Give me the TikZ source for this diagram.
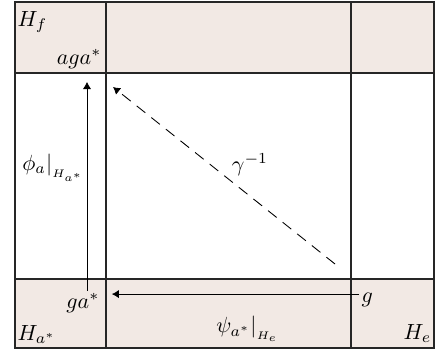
\documentclass[tikz,border=0pt]{standalone}
\usepackage{amsmath,amssymb}
\usepackage{xcolor}
\usepackage{tikz}
\usetikzlibrary{%
  arrows.meta,
  positioning,
  calc}
\definecolor{cellpink}{RGB}{242,233,228}
\tikzset{
  %% Grid of the table
  gridline/.style={draw=black!85, line width=0.5pt},
  shaded/.style={fill=cellpink},
  %% Math labels
  lbl/.style={inner sep=1pt},
  %% Arrows
  arrow/.style={-{Latex[length=3.2pt,width=3.8pt]}, black},
  darrow/.style={-{Latex[length=3.2pt,width=3.8pt]}, black,
    dash pattern=on 5pt off 3.5pt},
}
\begin{document}
\begin{tikzpicture}[x=0.016cm, y=-0.016cm]
  \useasboundingbox (0,0) rectangle (440,356);

  %% shaded rows
  \fill[shaded] (15,2) rectangle (434,73);
  \fill[shaded] (15,279) rectangle (434,348);

  %% grid
  \draw[gridline] (15,2) rectangle (434,348);
  \draw[gridline] (106,2) -- (106,348);
  \draw[gridline] (351,2) -- (351,348);
  \draw[gridline] (15,73) -- (434,73);
  \draw[gridline] (15,279) -- (434,279);

  %% corner labels
  \node[lbl, anchor=north west] (hf) at (15,9) {$H_f$};
  \node[lbl, anchor=south west] (ha) at (15,346) {$H_{a^*}$};
  \node[lbl, anchor=south east] (he) at (434,345) {$H_e$};

  %% elements
  \node[lbl, anchor=south east] (aga) at (104,71) {$aga^*$};
  \node[lbl, anchor=east] (ga) at (102,303) {$ga^*$};
  \node[lbl, anchor=west] (g) at (359,300) {$g$};

  %% maps
  \node[lbl] (phi) at (52,168)
        {$\left.\phi_a\right|_{\scriptscriptstyle H_{a^*}}$};
  \node[lbl] (psi) at (246,329)
        {$\left.\psi_{a^*}\right|_{\scriptscriptstyle H_e}$};
  \node[lbl] (gam) at (250,165) {$\gamma^{-1}$};

  \coordinate (vx) at (87,0);
  \coordinate (gs) at (335,264);
  \coordinate (gt) at (113,87);

  \draw[arrow, shorten >=5pt] (ga.north -| vx) -- (aga.south -| vx);
  \draw[arrow, shorten >=4.5pt] ([yshift=2.7pt]g.west)
        -- ([yshift=2.7pt]g.west -| ga.east);
  \draw[darrow] (gs) -- (gt);
\end{tikzpicture}
\end{document}
